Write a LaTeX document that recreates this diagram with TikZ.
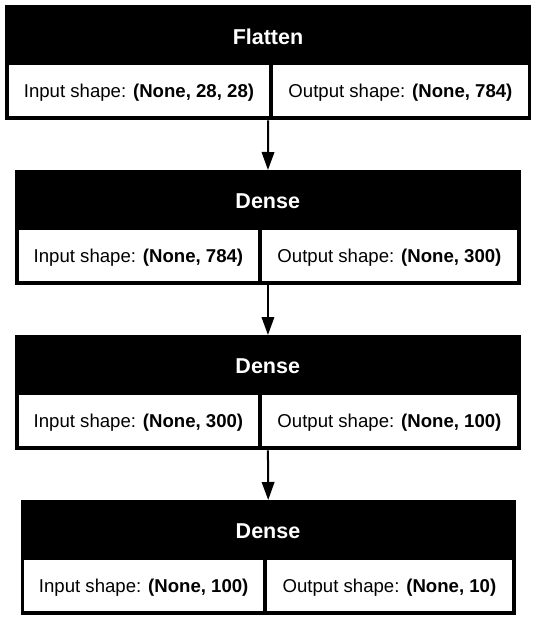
\documentclass[tikz,border=0pt]{standalone}
\usepackage{fontspec}
\setmainfont{Liberation Sans}
\usetikzlibrary{arrows.meta}
\tikzset{
    capa/.style={fill=black, inner sep=0pt, minimum height=115pt, anchor=north west},
    titulo/.style={text=white, inner sep=0pt, text height=15.4pt, text depth=0pt,
        font=\bfseries\fontsize{21.5}{24}\selectfont},
    celda/.style={fill=white, inner sep=0pt, minimum height=51pt, anchor=north west,
        text height=13.3pt, text depth=0pt, font=\fontsize{18.6}{22}\selectfont},
    flecha/.style={-{Triangle[length=18pt, width=12.5pt]}, line width=2pt}
}
\begin{document}
\begin{tikzpicture}[x=1pt, y=-1pt]

\useasboundingbox (0,0) rectangle (536,619);

% Capa Flatten
\node[capa, minimum width=526pt] (flatten) at (5,5) {};
\node[titulo] (flattenTitulo) at (268,36.5) {Flatten};
\node[celda, minimum width=260.5pt] (flattenIn) at (8.5,65) {Input shape: \textbf{(None, 28, 28)}};
\node[celda, minimum width=254.5pt] (flattenOut) at (273,65) {Output shape: \textbf{(None, 784)}};

% Primera capa Dense
\node[capa, minimum width=505.5pt] (denseA) at (15,170) {};
\node[titulo] (denseATitulo) at (267.75,201) {Dense};
\node[celda, minimum width=239.5pt] (denseAIn) at (18.5,230) {Input shape: \textbf{(None, 784)}};
\node[celda, minimum width=255.5pt] (denseAOut) at (261.5,230) {Output shape: \textbf{(None, 300)}};

% Segunda capa Dense
\node[capa, minimum width=505.5pt] (denseB) at (15,335) {};
\node[titulo] (denseBTitulo) at (267.75,366) {Dense};
\node[celda, minimum width=239.5pt] (denseBIn) at (18.5,395) {Input shape: \textbf{(None, 300)}};
\node[celda, minimum width=255.5pt] (denseBOut) at (261.5,395) {Output shape: \textbf{(None, 100)}};

% Tercera capa Dense
\node[capa, minimum width=495pt] (denseC) at (20.5,500) {};
\node[titulo] (denseCTitulo) at (268,531) {Dense};
\node[celda, minimum width=239pt] (denseCIn) at (24,560) {Input shape: \textbf{(None, 100)}};
\node[celda, minimum width=245.5pt] (denseCOut) at (266.5,560) {Output shape: \textbf{(None, 10)}};

% Flechas entre capas
\draw[flecha] (flatten.south) -- (denseA.north);
\draw[flecha] (denseA.south) -- (denseB.north);
\draw[flecha] (denseB.south) -- (denseC.north);

\end{tikzpicture}
\end{document}
